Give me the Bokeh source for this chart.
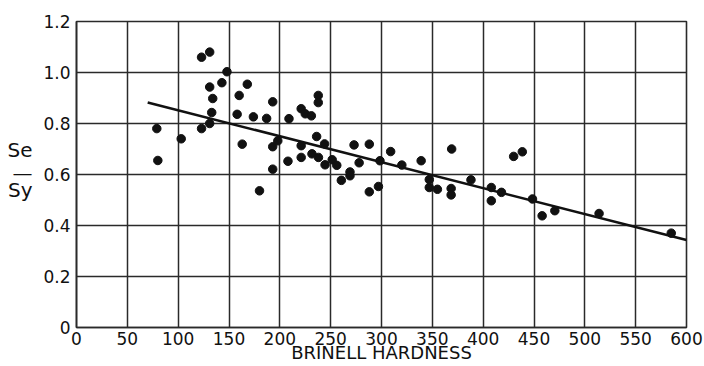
from bokeh.plotting import figure
from bokeh.models import FixedTicker, LinearAxis
from bokeh.embed import file_html
from bokeh.resources import INLINE

# Brinell hardness vs. endurance ratio Se/Sy
hardness = [79, 80, 103, 123, 123, 131, 131, 133, 134, 131, 143, 148, 158, 160,
            163, 168, 174, 180, 187, 193, 193, 193, 198, 208, 209, 221, 221, 221,
            225, 231, 231.6, 237.8, 237.8, 236.2, 238, 244, 244.5, 251.5, 256,
            260.5, 269, 269, 273, 278, 288, 288, 297, 298.5, 309, 320, 339, 347,
            347, 355, 369, 368.5, 368.5, 388, 408, 408, 418, 430, 438.5, 448.5,
            458, 470.5, 514, 585]
ratio = [0.78, 0.655, 0.74, 0.78, 1.06, 1.08, 0.80, 0.843, 0.898, 0.943, 0.96,
         1.003, 0.836, 0.91, 0.719, 0.954, 0.826, 0.536, 0.82, 0.885, 0.709,
         0.621, 0.732, 0.652, 0.819, 0.858, 0.713, 0.667, 0.838, 0.83, 0.681,
         0.91, 0.882, 0.749, 0.667, 0.72, 0.638, 0.658, 0.636, 0.577, 0.61,
         0.595, 0.716, 0.646, 0.719, 0.532, 0.553, 0.654, 0.69, 0.637, 0.654,
         0.58, 0.549, 0.542, 0.70, 0.545, 0.52, 0.579, 0.549, 0.497, 0.53, 0.671,
         0.689, 0.504, 0.438, 0.458, 0.447, 0.37]

fit_hardness = [70, 600]
fit_ratio = [0.882, 0.343]

x_ticks = [0, 50, 100, 150, 200, 250, 300, 350, 400, 450, 500, 550, 600]
y_ticks = [0, 0.2, 0.4, 0.6, 0.8, 1.0, 1.2]
y_label_overrides = {0: "0", 0.2: "0.2", 0.4: "0.4", 0.6: "0.6",
                     0.8: "0.8", 1.0: "1.0", 1.2: "1.2"}

x_title = "BRINELL HARDNESS"
y_title_parts = ["Se", "\u2014", "Sy"]      # numerator, fraction bar, denominator
y_title_at = [0.697, 0.607, 0.538]          # where the parts sit on the y scale

FONT = "DejaVu Sans"
INK = "#111111"
GRID = "#2a2a2a"

p = figure(width=704, height=366, x_range=(0, 600), y_range=(0, 1.2),
           output_backend="svg", toolbar_location=None,
           min_border_left=76, min_border_right=18, min_border_top=21,
           min_border_bottom=39)

p.background_fill_color = "white"
p.border_fill_color = "white"
p.outline_line_color = GRID
p.outline_line_width = 1.6

for ax in (p.xaxis[0], p.yaxis[0]):
    ax.axis_line_color = GRID
    ax.axis_line_width = 1.6
    ax.major_tick_line_color = None
    ax.minor_tick_line_color = None
    ax.major_tick_out = 0
    ax.major_tick_in = 0
    ax.major_label_text_font = FONT
    ax.major_label_text_font_size = "17px"
    ax.major_label_text_color = INK

p.xaxis.ticker = FixedTicker(ticks=x_ticks)
p.yaxis.ticker = FixedTicker(ticks=y_ticks)
p.yaxis.major_label_overrides = y_label_overrides
p.xaxis.major_label_standoff = 4
p.yaxis.major_label_standoff = 6

p.xaxis.axis_label = x_title
p.xaxis.axis_label_text_font = FONT
p.xaxis.axis_label_text_font_size = "18px"
p.xaxis.axis_label_text_font_style = "normal"
p.xaxis.axis_label_text_color = INK
p.xaxis.axis_label_standoff = -6

# y title as a fraction, carried by a second left axis
yt = LinearAxis(ticker=FixedTicker(ticks=y_title_at),
                major_label_overrides=dict(zip(y_title_at, y_title_parts)))
yt.axis_line_color = None
yt.major_tick_line_color = None
yt.minor_tick_line_color = None
yt.major_tick_out = 0
yt.major_tick_in = 0
yt.major_label_standoff = 8
yt.major_label_text_font = FONT
yt.major_label_text_font_size = "20px"
yt.major_label_text_color = INK
p.add_layout(yt, "left")

p.xgrid.ticker = FixedTicker(ticks=x_ticks)
p.ygrid.ticker = FixedTicker(ticks=y_ticks)
for g in (p.xgrid[0], p.ygrid[0]):
    g.grid_line_color = GRID
    g.grid_line_width = 1.5
    g.grid_line_alpha = 1.0

p.line(fit_hardness, fit_ratio, line_color=INK, line_width=2.6)
p.scatter(hardness, ratio, size=8.5, fill_color=INK, line_color=INK)

open("out.html", "w").write(file_html(p, INLINE))
